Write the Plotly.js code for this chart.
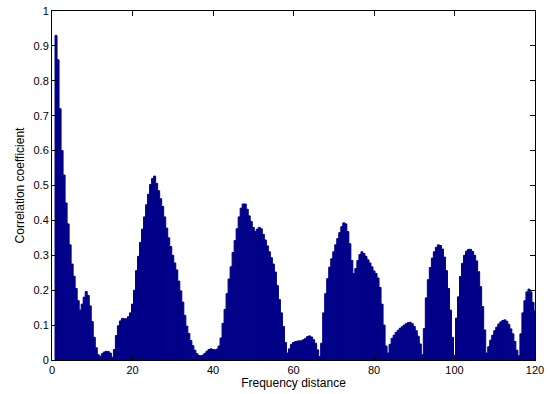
<!DOCTYPE html>
<html>
<head>
<meta charset="utf-8">
<script src="https://cdn.plot.ly/plotly-3.0.1.min.js"></script>
<style>
html,body{margin:0;padding:0;background:#fff;}
#chart{width:550px;height:394px;}
</style>
</head>
<body>
<div id="chart"></div>
<script>
// Frequency distance (x) and correlation coefficient (y), sampled every 0.5
var startX = 1.0;
var stepX = 0.5;
var corr = [
  0.93, 0.86, 0.72, 0.60, 0.53, 0.45, 0.39, 0.33, 0.275, 0.24,   // 1.0 - 5.5
  0.205, 0.17, 0.143, 0.16, 0.18, 0.196, 0.185, 0.155, 0.11, 0.065, // 6.0 - 10.5
  0.035, 0.015, 0.01, 0.018, 0.023, 0.025, 0.024, 0.02, 0.008, 0.03, // 11.0 - 15.5
  0.07, 0.098, 0.112, 0.119, 0.118, 0.118, 0.124, 0.135, 0.16, 0.2,  // 16.0 - 20.5
  0.256, 0.297, 0.337, 0.375, 0.41, 0.445, 0.475, 0.503, 0.52, 0.527, // 21.0 - 25.5
  0.506, 0.485, 0.462, 0.44, 0.41, 0.378, 0.35, 0.325, 0.30, 0.278,  // 26.0 - 30.5
  0.258, 0.226, 0.198, 0.166, 0.128, 0.097, 0.076, 0.056, 0.041, 0.028, // 31.0 - 35.5
  0.018, 0.013, 0.012, 0.014, 0.019, 0.025, 0.030, 0.032, 0.03, 0.029, // 36.0 - 40.5
  0.031, 0.04, 0.063, 0.105, 0.145, 0.19, 0.232, 0.267, 0.308, 0.342,  // 41.0 - 45.5
  0.376, 0.41, 0.435, 0.447, 0.447, 0.432, 0.413, 0.397, 0.38, 0.368,  // 46.0 - 50.5
  0.375, 0.38, 0.376, 0.36, 0.344, 0.327, 0.31, 0.293, 0.275, 0.252,   // 51.0 - 55.5
  0.213, 0.173, 0.135, 0.096, 0.05, 0.02, 0.032, 0.045, 0.05, 0.053,   // 56.0 - 60.5
  0.054, 0.055, 0.055, 0.058, 0.062, 0.067, 0.069, 0.066, 0.058, 0.048, // 61.0 - 65.5
  0.029, 0.01, 0.048, 0.135, 0.19, 0.233, 0.266, 0.29, 0.31, 0.33,     // 66.0 - 70.5
  0.348, 0.365, 0.382, 0.393, 0.39, 0.368, 0.333, 0.285, 0.248, 0.262, // 71.0 - 75.5
  0.285, 0.302, 0.31, 0.305, 0.297, 0.287, 0.278, 0.267, 0.255, 0.248, // 76.0 - 80.5
  0.235, 0.208, 0.16, 0.1, 0.04, 0.02, 0.045, 0.062, 0.071, 0.079,     // 81.0 - 85.5
  0.085, 0.091, 0.095, 0.1, 0.104, 0.107, 0.108, 0.104, 0.096, 0.084,  // 86.0 - 90.5
  0.068, 0.046, 0.015, 0.09, 0.178, 0.23, 0.265, 0.292, 0.31, 0.323,   // 91.0 - 95.5
  0.33, 0.328, 0.318, 0.295, 0.256, 0.205, 0.143, 0.065, 0.012, 0.12,  // 96.0 - 100.5
  0.181, 0.239, 0.277, 0.3, 0.312, 0.317, 0.317, 0.311, 0.3, 0.284,    // 101.0 - 105.5
  0.253, 0.21, 0.153, 0.086, 0.02, 0.038, 0.057, 0.071, 0.084, 0.094,  // 106.0 - 110.5
  0.103, 0.109, 0.113, 0.115, 0.111, 0.102, 0.089, 0.075, 0.053, 0.028, // 111.0 - 115.5
  0.012, 0.075, 0.135, 0.17, 0.195, 0.203, 0.195, 0.165, 0.14          // 116.0 - 120.0
];
var freq = corr.map(function(_, i){ return startX + i * stepX; });

var xTicks = [0, 20, 40, 60, 80, 100, 120];
var yTicks = [0, 0.1, 0.2, 0.3, 0.4, 0.5, 0.6, 0.7, 0.8, 0.9, 1];
var yTickText = ['0', '0.1', '0.2', '0.3', '0.4', '0.5', '0.6', '0.7', '0.8', '0.9', '1'];

var trace = {
  type: 'bar',
  x: freq,
  y: corr,
  width: stepX,
  marker: {color: '#000088', line: {color: '#000088', width: 1}},
  hoverinfo: 'x+y'
};

var axisCommon = {
  showline: true, linecolor: '#000', linewidth: 1, mirror: 'ticks',
  ticks: 'inside', ticklen: 5, tickcolor: '#000', tickwidth: 1,
  showgrid: false, zeroline: false,
  tickfont: {family: 'Liberation Sans, Arial, sans-serif', size: 11, color: '#000'}
};

var layout = {
  width: 550, height: 394,
  margin: {l: 52, r: 15, t: 11, b: 34},
  paper_bgcolor: '#fff', plot_bgcolor: '#fff',
  bargap: 0,
  showlegend: false,
  xaxis: Object.assign({}, axisCommon, {
    range: [0, 120], tickvals: xTicks, ticktext: xTicks.map(String),
    title: {text: 'Frequency distance', standoff: 2,
      font: {family: 'Liberation Sans, Arial, sans-serif', size: 12, color: '#000'}}
  }),
  yaxis: Object.assign({}, axisCommon, {
    range: [0, 1], tickvals: yTicks, ticktext: yTickText,
    title: {text: 'Correlation coefficient', standoff: 6,
      font: {family: 'Liberation Sans, Arial, sans-serif', size: 12, color: '#000'}}
  })
};

Plotly.newPlot('chart', [trace], layout, {displayModeBar: false, staticPlot: true});
</script>
</body>
</html>
